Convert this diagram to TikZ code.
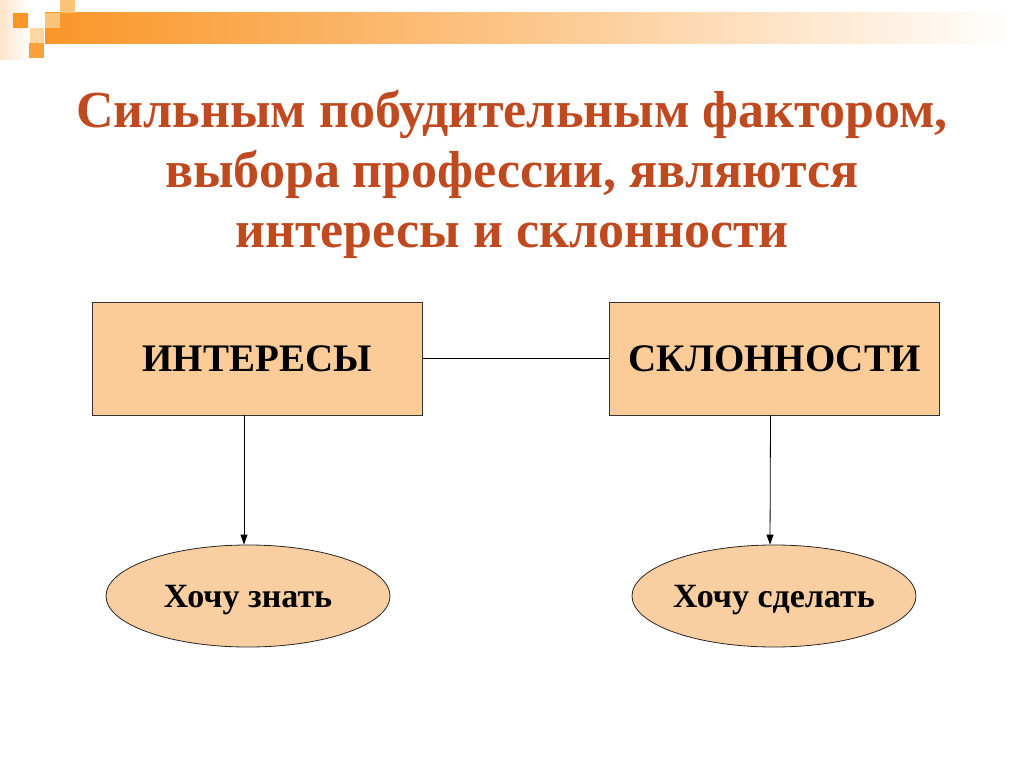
\documentclass[tikz,border=0pt]{standalone}
\usepackage{fontspec}
\setmainfont{Liberation Serif}
\usetikzlibrary{shapes.geometric,arrows.meta}
\definecolor{titlec}{RGB}{192,74,32}
\definecolor{boxc}{RGB}{252,204,152}
\definecolor{ellc}{RGB}{249,206,160}
\definecolor{orA}{RGB}{250,150,40}
\definecolor{orB}{RGB}{252,196,120}
\begin{document}
\begin{tikzpicture}[x=1pt,y=-1pt,
  box/.style={draw=black!80,line width=0.8pt,fill=boxc,minimum width=330pt,minimum height=113pt,inner sep=0pt,font=\fontsize{39}{44}\selectfont\bfseries},
  oval/.style={ellipse,draw=black!85,line width=0.8pt,fill=ellc,minimum width=284pt,minimum height=102pt,inner sep=0pt},
  ovaltext/.style={font=\fontsize{34}{40}\selectfont\bfseries},
  conn/.style={line width=0.8pt,black},
  arr/.style={conn,-{Triangle[length=10pt,width=7pt]}}]
\useasboundingbox (0,0) rectangle (1024,767);
\fill[white] (0,0) rectangle (1024,767);
% top decoration
\shade[left color=orA,right color=orA!55] (45,13) rectangle (520,44);
\shade[left color=orA!55,right color=white] (520,13) rectangle (1010,44);
\shade[left color=orA!25,right color=white] (0,0) rectangle (30,60);
\fill[orA] (13,13) rectangle (28,28);
\fill[orB] (45,13) rectangle (60,28);
\fill[orB] (60,0) rectangle (75,13);
\fill[orB!70] (30,28) rectangle (44,43);
\fill[orA!90] (29,43) rectangle (44,58);
% title
\node[text=titlec,font=\fontsize{52}{60}\selectfont\bfseries,align=center] (title) at (512,174)
 {Сильным побудительным фактором,\\выбора профессии, являются\\интересы и склонности};
\node[box] (int) at (257,358.5) {ИНТЕРЕСЫ};
\node[box] (skl) at (774.5,358.5) {СКЛОННОСТИ};
\node[oval] (know) at (248,596) {};
\node[oval] (do) at (774,596) {};
\node[ovaltext] (knowt) at (248,600) {Хочу знать};
\node[ovaltext] (dot) at (774,600) {Хочу сделать};
\draw[conn] (int.east) -- (skl.west);
\draw[arr] ([xshift=-4pt]know.north |- int.south) -- ([xshift=-4pt]know.north);
\draw[arr] ([xshift=-4pt]skl.south) -- ([xshift=-4pt]do.north);
\end{tikzpicture}
\end{document}
